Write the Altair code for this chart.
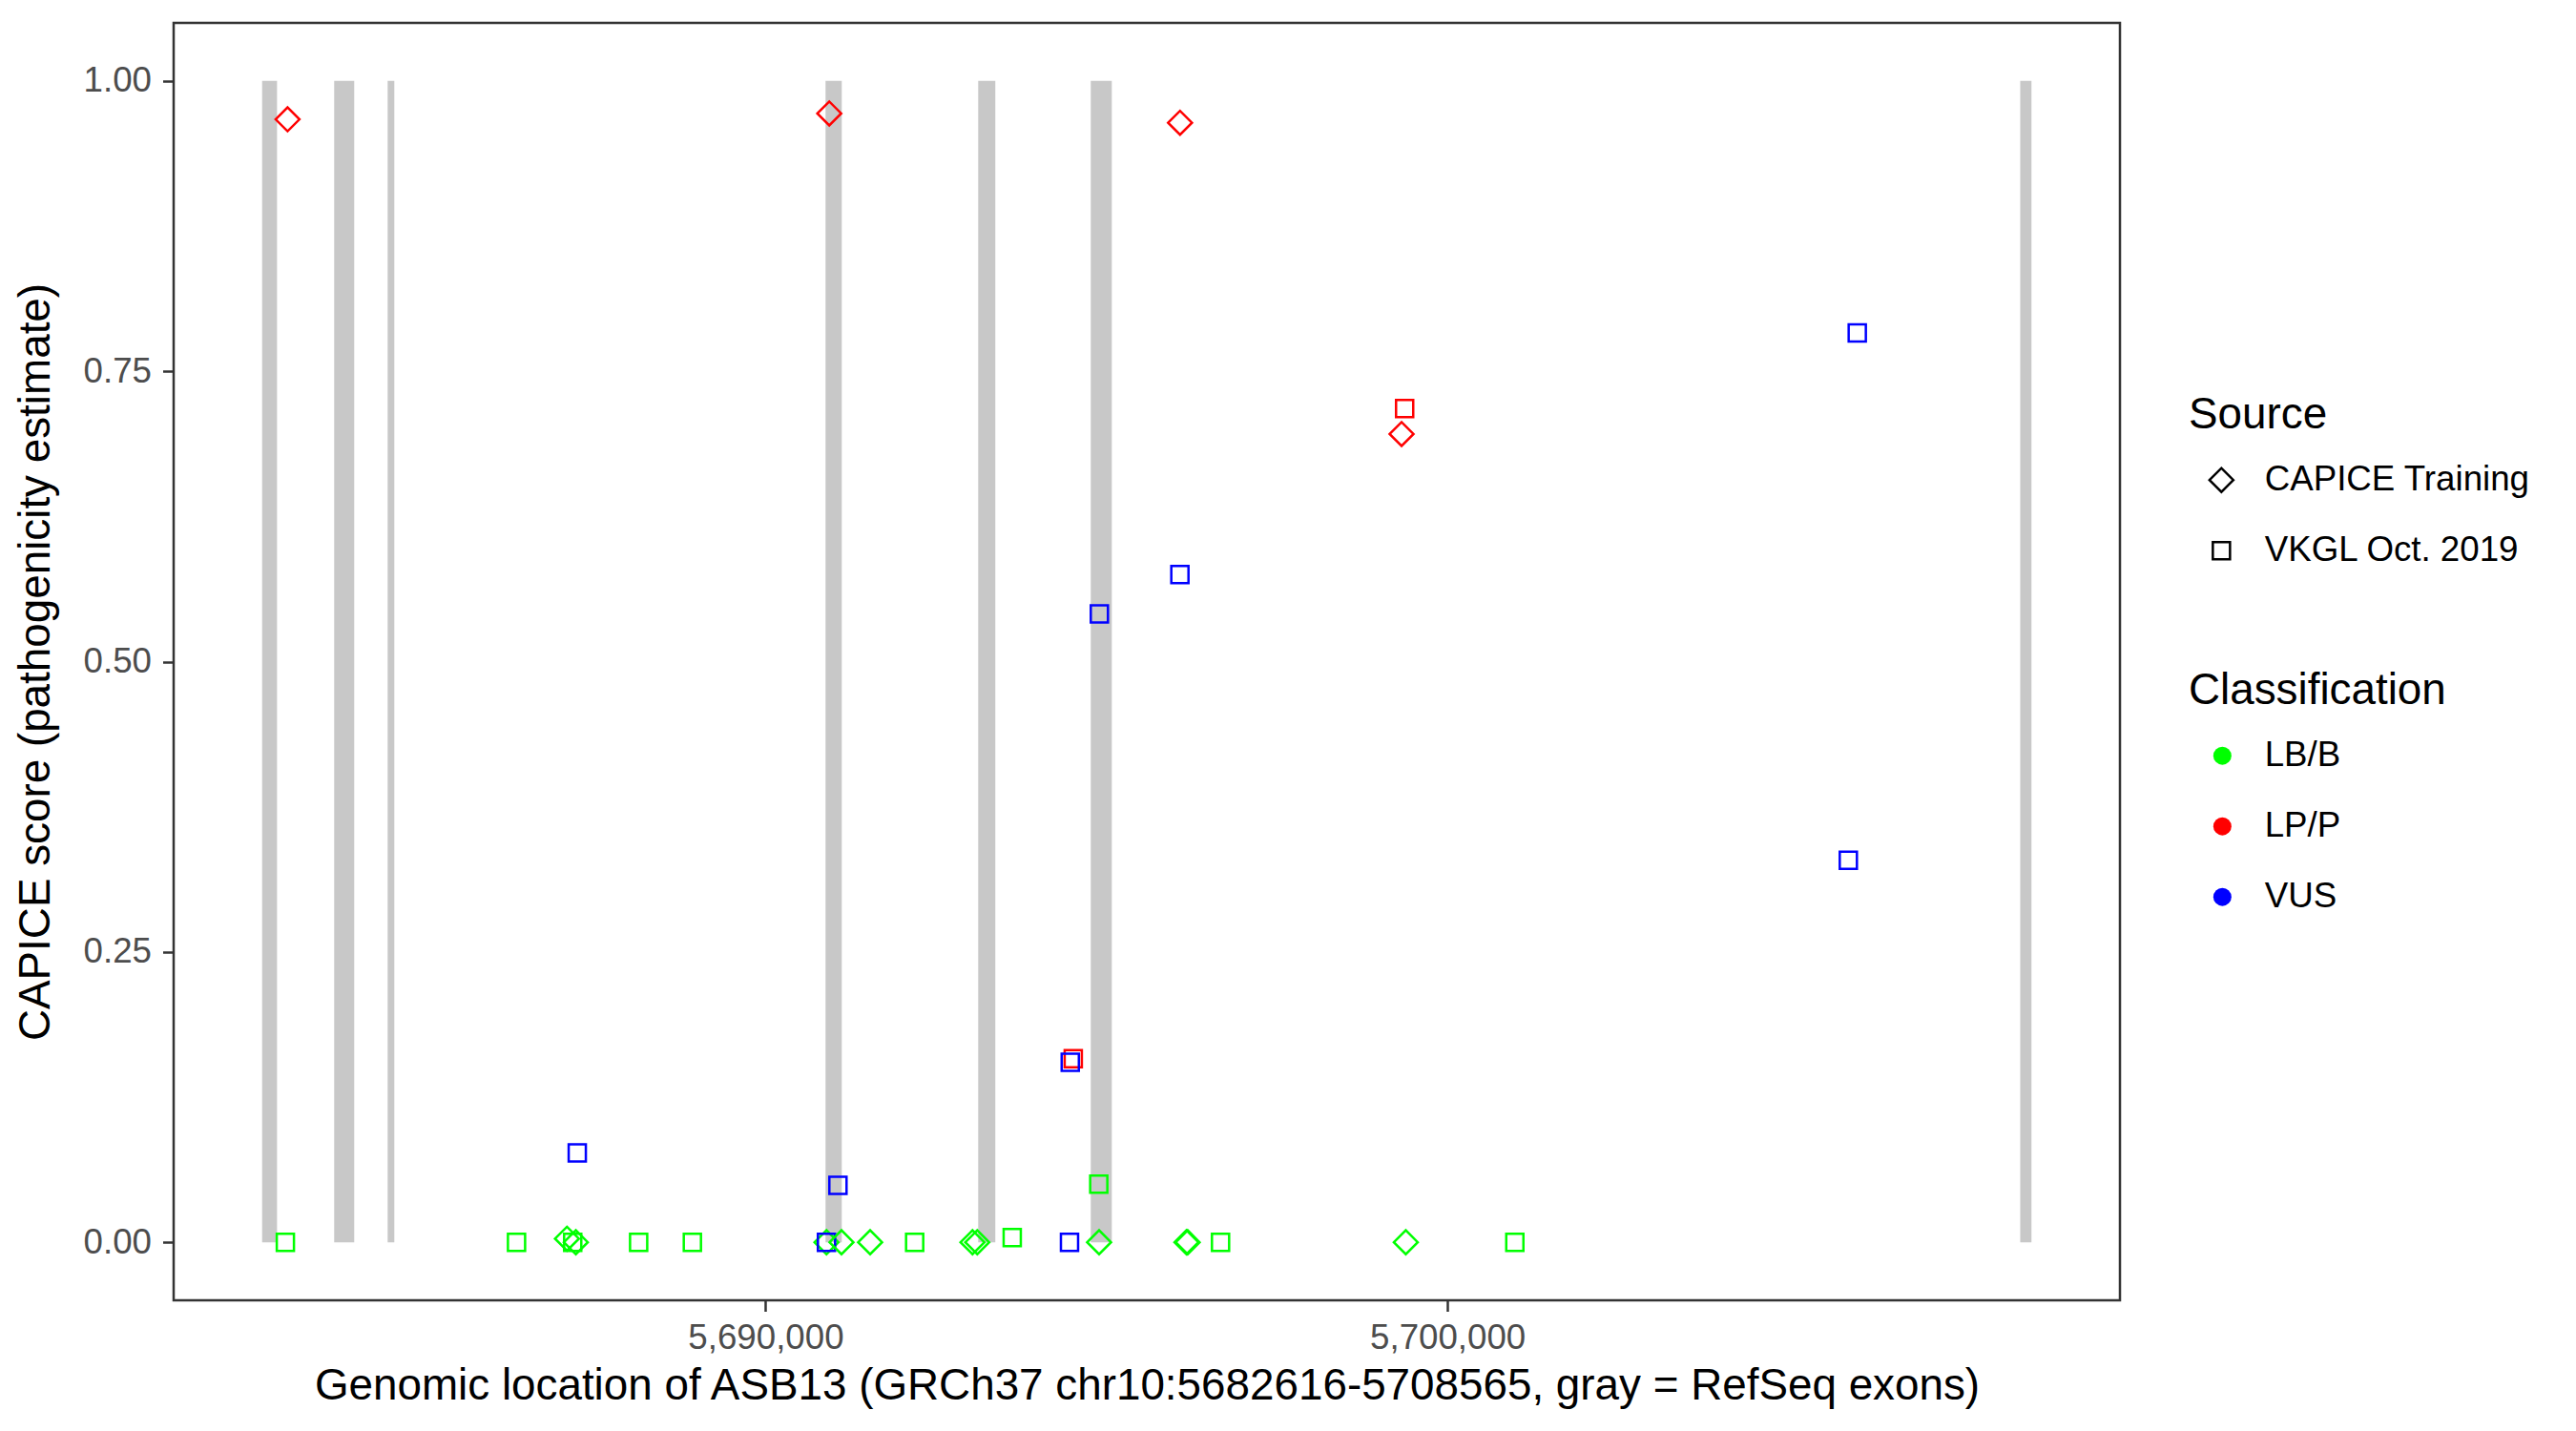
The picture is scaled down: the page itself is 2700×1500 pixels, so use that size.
import altair as alt
import pandas as pd

# RefSeq exons (gray bands)
exon_start = [5682616, 5683673, 5684457, 5690879, 5693118, 5694769, 5708400]
exon_end = [5682835, 5683967, 5684555, 5691117, 5693369, 5695077, 5708565]

# variants
pos = [5682989, 5690934, 5696078, 5706010, 5699372, 5699327, 5696076, 5694895,
       5705879, 5694512, 5694468, 5694886, 5687238, 5691061,
       5682957, 5686347, 5687087, 5687171, 5687217, 5688138, 5688926,
       5690893, 5690893, 5691113, 5691533, 5692186, 5693034, 5693104,
       5693617, 5694457, 5694891, 5696172, 5696190, 5696672, 5699389, 5700988]
score = [0.967, 0.972, 0.964, 0.783, 0.718, 0.696, 0.575, 0.541,
         0.329, 0.158, 0.155, 0.050, 0.077, 0.049,
         0.0, 0.0, 0.003, 0.0, 0.0, 0.0, 0.0,
         0.0, 0.0, 0.0, 0.0, 0.0, 0.0, 0.0,
         0.004, 0.0, 0.0, 0.0, 0.0, 0.0, 0.0, 0.0]
C = "CAPICE Training"
V = "VKGL Oct. 2019"
source = [C, C, C, V, V, C, V, V,
          V, V, V, V, V, V,
          V, V, C, V, C, V, V,
          C, V, C, C, V, C, C,
          V, V, C, C, C, V, C, V]
classification = ["LP/P", "LP/P", "LP/P", "VUS", "LP/P", "LP/P", "VUS", "VUS",
                  "VUS", "LP/P", "VUS", "LB/B", "VUS", "VUS",
                  "LB/B", "LB/B", "LB/B", "LB/B", "LB/B", "LB/B", "LB/B",
                  "LB/B", "VUS", "LB/B", "LB/B", "LB/B", "LB/B", "LB/B",
                  "LB/B", "VUS", "LB/B", "LB/B", "LB/B", "LB/B", "LB/B", "LB/B"]

class_domain = ["LB/B", "LP/P", "VUS"]
class_colors = ["#00FF00", "#FF0000", "#0000FF"]
source_domain = [C, V]
x_ticks = [5690000, 5700000]
y_ticks = [0, 0.25, 0.5, 0.75, 1.0]

exons = pd.DataFrame({"start": exon_start, "end": exon_end,
                      "lo": [0.0] * len(exon_start), "hi": [1.0] * len(exon_start)})
df = pd.DataFrame({"pos": pos, "score": score, "source": source, "cls": classification})

FONT = "Liberation Sans"
xscale = alt.Scale(domain=[5681318.5, 5709862.5], nice=False, zero=False)
yscale = alt.Scale(domain=[-0.05, 1.05], nice=False, zero=False)
square_path = "M-0.72,-0.72H0.72V0.72H-0.72Z"

xaxis = alt.Axis(values=x_ticks, labelExpr="format(datum.value, ',')", grid=False, domain=False,
                 tickSize=11.5, tickWidth=2.5, tickColor="#333333",
                 labelFontSize=36.7, labelColor="#4D4D4D", labelPadding=10,
                 title="Genomic location of ASB13 (GRCh37 chr10:5682616-5708565, gray = RefSeq exons)",
                 titleFontSize=45.8, titleFontWeight="normal", titleColor="black",
                 titlePadding=9)
yaxis = alt.Axis(values=y_ticks, labelExpr="format(datum.value, '.2f')", grid=False, domain=False,
                 tickSize=11.5, tickWidth=2.5, tickColor="#333333",
                 labelFontSize=36.7, labelColor="#4D4D4D", labelPadding=12,
                 title="CAPICE score (pathogenicity estimate)",
                 titleFontSize=45.8, titleFontWeight="normal", titleColor="black",
                 titlePadding=26)

exon_layer = alt.Chart(exons).mark_rect(color="#C8C8C8").encode(
    x=alt.X("start:Q", scale=xscale, axis=xaxis),
    x2="end:Q",
    y=alt.Y("lo:Q", scale=yscale, axis=yaxis),
    y2="hi:Q",
)

# stroke scale: data-driven (sorted) domain, so its (hidden) legend is not merged with the fill legend
points = alt.Chart(df).mark_point(filled=False, size=625, strokeWidth=2.5, opacity=1).encode(
    x=alt.X("pos:Q"),
    y=alt.Y("score:Q"),
    stroke=alt.Stroke("cls:N", sort="ascending", scale=alt.Scale(range=class_colors), legend=None),
    shape=alt.Shape("source:N", scale=alt.Scale(domain=source_domain, range=["diamond", square_path]),
                    legend=alt.Legend(title="Source", orient="none", legendX=2112, legendY=389,
                                      padding=0, titleFontSize=45.8, titleFontWeight="normal",
                                      titleColor="black", titlePadding=26, titleLimit=1000,
                                      labelFontSize=36.7, labelColor="black", labelLimit=1000,
                                      symbolSize=625, symbolStrokeColor="black",
                                      symbolStrokeWidth=2.5, symbolFillColor="transparent",
                                      symbolOffset=16, labelOffset=27, rowPadding=36)),
)

legend_layer = alt.Chart(df).transform_filter("false").mark_point(
    filled=True, shape="circle", size=361, opacity=1).encode(
    x=alt.X("pos:Q"),
    y=alt.Y("score:Q"),
    fill=alt.Fill("cls:N", scale=alt.Scale(domain=class_domain, range=class_colors),
                  legend=alt.Legend(title="Classification", orient="none", legendX=2112, legendY=678,
                                    padding=0, titleFontSize=45.8, titleFontWeight="normal",
                                    titleColor="black", titlePadding=26, titleLimit=1000,
                                    labelFontSize=36.7, labelColor="black", labelLimit=1000,
                                    symbolType="circle", symbolSize=361, symbolStrokeWidth=0,
                                    symbolOffset=17, labelOffset=26, rowPadding=36)),
)

chart = alt.layer(exon_layer, points, legend_layer).properties(
    width=2040, height=1339,
    autosize=alt.AutoSizeParams(type="none"),
    padding={"left": 174, "top": 16, "right": 470, "bottom": 130},
).configure(font=FONT).configure_view(
    stroke="#333333", strokeWidth=2.5
)

chart.save("out.html", embed_options={"renderer": "svg", "actions": False})
